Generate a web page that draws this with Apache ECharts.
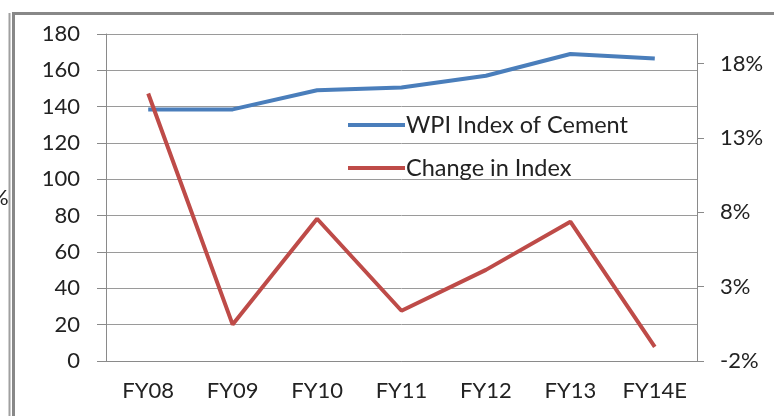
<!DOCTYPE html>
<html>
<head>
<meta charset="utf-8">
<script src="https://cdn.jsdelivr.net/npm/echarts@6/dist/echarts.min.js"></script>
<style>
  html,body{margin:0;padding:0;background:#fff;}
  #main{width:774px;height:416px;}
</style>
</head>
<body>
<div id="main"></div>
<script>
// 数据
var years = ['FY08', 'FY09', 'FY10', 'FY11', 'FY12', 'FY13', 'FY14E'];
var wpiIndex = [138.5, 138.5, 149, 150.5, 157, 169, 166.5];
var changeInIndex = [0.16, 0.0045, 0.0757, 0.0138, 0.0413, 0.0737, -0.0105];
var rightTicks = [-0.02, 0.03, 0.08, 0.13, 0.18];

var font = 'Lato';
var grey = '#8a8a8a';

var chart = echarts.init(document.getElementById('main'));
chart.setOption({
    animation: false,
    textStyle: { fontFamily: font },
    grid: { left: 106, right: 77, top: 34, bottom: 55 },
    legend: {
        orient: 'vertical',
        left: 343,
        top: 108,
        itemGap: 19,
        itemWidth: 57,
        itemHeight: 4,
        icon: 'rect',
        textStyle: { fontSize: 23.5, color: '#222', padding: [0, 0, 0, -4] },
        data: ['WPI Index of Cement', 'Change in Index']
    },
    xAxis: {
        type: 'category',
        data: years,
        boundaryGap: true,
        axisLine: { lineStyle: { color: grey } },
        axisTick: { length: 7, lineStyle: { color: grey } },
        axisLabel: { fontSize: 22, color: '#222', margin: 19 }
    },
    yAxis: [{
        type: 'value',
        min: 0,
        max: 180,
        interval: 20,
        axisLine: { show: true, lineStyle: { color: grey } },
        axisTick: { show: true, length: 9, lineStyle: { color: grey } },
        axisLabel: { fontSize: 22, color: '#222', margin: 26 },
        splitLine: { lineStyle: { color: '#9a9a9a' } }
    }, {
        type: 'value',
        min: -0.02,
        max: 0.2,
        interval: 0.05,
        axisLine: { show: true, lineStyle: { color: grey } },
        axisTick: { show: true, length: 7, customValues: rightTicks, lineStyle: { color: grey } },
        axisLabel: {
            fontSize: 22, color: '#222', margin: 23,
            customValues: rightTicks,
            formatter: function (v) { return Math.round(v * 100) + '%'; }
        },
        splitLine: { show: false }
    }],
    series: [{
        name: 'WPI Index of Cement',
        type: 'line',
        yAxisIndex: 0,
        data: wpiIndex,
        symbol: 'none',
        itemStyle: { color: '#4a7ebb' },
        lineStyle: { width: 4, color: '#4a7ebb' }
    }, {
        name: 'Change in Index',
        type: 'line',
        yAxisIndex: 1,
        data: changeInIndex,
        symbol: 'none',
        itemStyle: { color: '#be4b48' },
        lineStyle: { width: 4, color: '#be4b48' }
    }],
    graphic: [
        { type: 'line', shape: { x1: 9.5, y1: 13, x2: 9.5, y2: 416 }, style: { stroke: '#a0a0a0', lineWidth: 2 } },
        { type: 'line', shape: { x1: 13.5, y1: 13, x2: 13.5, y2: 416 }, style: { stroke: '#888', lineWidth: 3 } },
        { type: 'line', shape: { x1: 12, y1: 13.5, x2: 774, y2: 13.5 }, style: { stroke: '#888', lineWidth: 3 } },
        { type: 'text', left: -9, top: 187, style: { text: '%', fontSize: 22, fontFamily: font, fill: '#222' } }
    ]
});
</script>
</body>
</html>
